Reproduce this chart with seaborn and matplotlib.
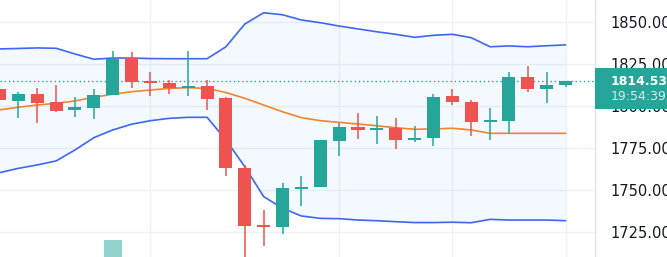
import matplotlib
matplotlib.use("Agg")
import matplotlib.pyplot as plt
import matplotlib.transforms as mtransforms
from matplotlib.patches import Rectangle
import numpy as np
import pandas as pd
import seaborn as sns

# ---------------- data ----------------
opens = [1810.2, 1802.8, 1806.8, 1802.0, 1797.4, 1798.8, 1806.4, 1828.1, 1814.5, 1813.5,
         1810.3, 1811.5, 1804.4, 1763.2, 1729.0, 1728.1, 1750.7, 1751.9, 1779.0, 1787.4,
         1785.6, 1786.9, 1779.6, 1780.6, 1805.6, 1802.4, 1790.1, 1791.1, 1817.0, 1809.9,
         1812.3]
highs = [1812.3, 1808.3, 1810.3, 1812.3, 1805.3, 1809.7, 1832.7, 1831.7, 1819.8, 1815.3,
         1832.7, 1815.3, 1805.3, 1764.8, 1738.1, 1754.3, 1758.3, 1779.6, 1789.5, 1795.5,
         1793.9, 1792.5, 1788.1, 1806.8, 1809.7, 1803.4, 1798.5, 1819.8, 1823.6, 1820.2,
         1814.9]
lows = [1795.7, 1792.5, 1789.5, 1796.4, 1793.1, 1792.1, 1806.2, 1810.3, 1805.9, 1806.8,
        1805.9, 1797.4, 1758.4, 1708.0, 1716.9, 1723.6, 1740.6, 1751.5, 1770.3, 1780.0,
        1777.1, 1774.1, 1778.3, 1776.2, 1800.4, 1782.2, 1779.6, 1783.6, 1808.0, 1801.4,
        1810.9]
closes = [1803.4, 1806.8, 1801.8, 1797.0, 1799.0, 1806.4, 1827.7, 1813.9, 1813.3, 1810.3,
          1811.7, 1804.2, 1763.2, 1728.7, 1728.1, 1751.0, 1751.9, 1779.5, 1787.4, 1785.6,
          1786.9, 1779.6, 1781.0, 1805.3, 1802.4, 1790.1, 1791.5, 1817.0, 1809.9, 1812.3,
          1814.53]

bb_upper = [1833.7, 1834.0, 1834.3, 1834.1, 1830.7, 1827.6, 1828.3, 1828.3, 1828.0, 1827.9,
            1827.9, 1827.9, 1835.0, 1848.5, 1855.2, 1854.0, 1850.9, 1849.3, 1847.3, 1845.6,
            1843.9, 1842.4, 1840.6, 1841.8, 1842.4, 1840.4, 1835.0, 1835.5, 1835.0, 1835.6,
            1836.1]
bb_middle = [1797.5, 1799.1, 1800.4, 1801.4, 1802.8, 1805.0, 1806.8, 1808.3, 1809.3, 1810.3,
             1810.7, 1810.3, 1807.8, 1804.4, 1800.4, 1796.4, 1792.9, 1791.1, 1790.1, 1789.1,
             1788.1, 1786.9, 1786.0, 1786.2, 1786.6, 1785.6, 1783.6, 1783.6, 1783.6, 1783.6,
             1783.6]
bb_lower = [1760.2, 1762.8, 1764.8, 1767.2, 1773.7, 1781.0, 1785.6, 1789.0, 1791.1, 1792.5,
            1793.1, 1793.1, 1779.6, 1763.8, 1746.0, 1739.1, 1734.5, 1733.1, 1732.9, 1732.1,
            1731.7, 1731.1, 1730.6, 1730.6, 1730.8, 1730.5, 1732.5, 1732.1, 1732.1, 1732.1,
            1731.7]

# only visible volume bar (its top peeks into the bottom of the view)
volume_index = [6]
volume_top = [1720.3]

price_ticks = [1725, 1750, 1775, 1800, 1825, 1850]
last_price = 1814.53
countdown = "19:54:39"
session_lines = [8, 18, 24, 30]

# ---------------- style ----------------
GREEN = "#26a69a"
RED = "#ef5350"
BAND = "#3f66f2"
MID = "#f5832a"
GRID = "#eef1f6"
TEXT = "#131722"

sns.set_theme(style="white")
plt.rcParams["font.family"] = ["DejaVu Sans"]

W, H = 667, 257
PLOT_W = 595
fig = plt.figure(figsize=(W / 100, H / 100), dpi=100)
ax = fig.add_axes([0, 0, PLOT_W / W, 1])

idx = np.arange(len(closes))
df = pd.DataFrame({"i": idx, "upper": bb_upper, "middle": bb_middle, "lower": bb_lower})

ax.set_xlim(0.0265, 31.56)
ax.set_ylim(1710.15, 1862.77)

# grid
for p in price_ticks:
    ax.axhline(p, color=GRID, lw=1, zorder=0)
for s in session_lines:
    ax.axvline(s, color=GRID, lw=1, zorder=0)

# band fill and lines
ax.fill_between(df["i"], df["lower"], df["upper"], color="#2196f3", alpha=0.05, lw=0, zorder=0.5)
sns.lineplot(data=df, x="i", y="upper", ax=ax, color=BAND, lw=1.2, zorder=2)
sns.lineplot(data=df, x="i", y="lower", ax=ax, color=BAND, lw=1.2, zorder=2)
sns.lineplot(data=df, x="i", y="middle", ax=ax, color=MID, lw=1.2, zorder=2)

# volume
ax.bar(volume_index, [t - 1700 for t in volume_top], bottom=1700, width=0.94,
       color="#92d2cc", lw=0, zorder=1)

# last price dotted line
ax.axhline(last_price, color=GREEN, ls=(0, (1, 2)), lw=1, zorder=2.2)

# candles
colors = [GREEN if c >= o else RED for o, c in zip(opens, closes)]
ax.vlines(idx, lows, highs, colors=colors, lw=1.1, zorder=3)
bottoms = [min(o, c) for o, c in zip(opens, closes)]
heights = [max(abs(c - o), 0.8) for o, c in zip(opens, closes)]
ax.bar(idx, heights, bottom=bottoms, width=0.69, color=colors, lw=0, zorder=4)

# axes styling
for side in ["top", "left", "bottom"]:
    ax.spines[side].set_visible(False)
ax.spines["right"].set_color("#e0e3eb")
ax.spines["right"].set_linewidth(1)
ax.set_xticks([])
ax.yaxis.tick_right()
ax.set_yticks(price_ticks)
ax.set_yticklabels([f"{p:.2f}" for p in price_ticks])
ax.tick_params(axis="y", length=0, pad=10.8, labelsize=10.5, labelcolor=TEXT)
ax.set_xlabel("")
ax.set_ylabel("")

# price label box on the scale
trans = mtransforms.blended_transform_factory(ax.transAxes, ax.transData)
box = Rectangle((1.0, 1798.0), (W - PLOT_W) / PLOT_W + 0.01, 1822.2 - 1798.0,
                transform=trans, color=GREEN, clip_on=False, zorder=10, lw=0)
ax.add_patch(box)
ax.text(611 / PLOT_W, 1814.3, f"{last_price:.2f}", transform=trans, color="white",
        fontsize=9, fontweight="bold", va="center", ha="left", zorder=11, clip_on=False)
ax.text(611 / PLOT_W, 1805.6, countdown, transform=trans, color="white", alpha=0.8,
        fontsize=9, va="center", ha="left", zorder=11, clip_on=False)

fig.savefig("out.png", dpi=100)
